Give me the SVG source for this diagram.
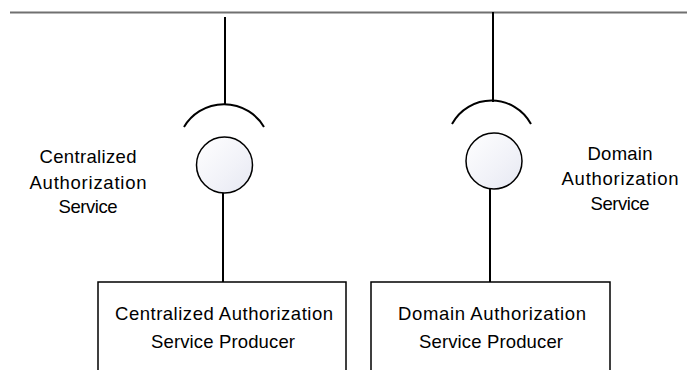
<svg xmlns="http://www.w3.org/2000/svg" width="687" height="370" viewBox="0 0 687 370">
<style>
.ln{stroke:#000;stroke-width:2;fill:none}
.bx{stroke:#000;stroke-width:1.5;fill:#fff}
.t{font-family:"Liberation Sans",Arial,sans-serif;font-size:18.5px;fill:#000;text-anchor:middle}
</style>
<defs>
<linearGradient id="g" x1="0" y1="0" x2="1" y2="1">
<stop offset="0" stop-color="#ffffff"/>
<stop offset="0.6" stop-color="#f1f2f8"/>
<stop offset="1" stop-color="#e6e8f2"/>
</linearGradient>
</defs>
<g id="connectors">
<line x1="10" y1="12.5" x2="687" y2="12.5" stroke="#707070" stroke-width="2.2"/>
<line class="ln" x1="225" y1="17" x2="225" y2="105"/>
<line class="ln" x1="223" y1="193" x2="223" y2="282"/>
<line class="ln" x1="493" y1="12" x2="493" y2="102"/>
<line class="ln" x1="490" y1="189" x2="490" y2="282"/>
</g>
<g id="centralized-interface">
<path class="ln" d="M184,127 A46.5,46.5 0 0 1 264,127"/>
<circle cx="224.5" cy="165" r="28" fill="url(#g)" stroke="#000" stroke-width="1.5"/>
<text class="t"><tspan x="88" y="163" textLength="97" lengthAdjust="spacing">Centralized</tspan><tspan x="88" y="188.5" textLength="117" lengthAdjust="spacing">Authorization</tspan><tspan x="88" y="213" textLength="59" lengthAdjust="spacing">Service</tspan></text>
</g>
<g id="domain-interface">
<path class="ln" d="M452,124 A45,45 0 0 1 531,124"/>
<circle cx="494" cy="161" r="28" fill="url(#g)" stroke="#000" stroke-width="1.5"/>
<text class="t"><tspan x="620" y="160" textLength="65" lengthAdjust="spacing">Domain</tspan><tspan x="620" y="185" textLength="117" lengthAdjust="spacing">Authorization</tspan><tspan x="620" y="210" textLength="59" lengthAdjust="spacing">Service</tspan></text>
</g>
<g id="centralized-producer">
<rect class="bx" x="98" y="282" width="248" height="100"/>
<text class="t"><tspan x="224" y="320" textLength="218" lengthAdjust="spacing">Centralized Authorization</tspan><tspan x="223" y="348" textLength="144" lengthAdjust="spacing">Service Producer</tspan></text>
</g>
<g id="domain-producer">
<rect class="bx" x="371" y="282" width="239" height="100"/>
<text class="t"><tspan x="492" y="320" textLength="188" lengthAdjust="spacing">Domain Authorization</tspan><tspan x="491" y="348" textLength="144" lengthAdjust="spacing">Service Producer</tspan></text>
</g>
</svg>
